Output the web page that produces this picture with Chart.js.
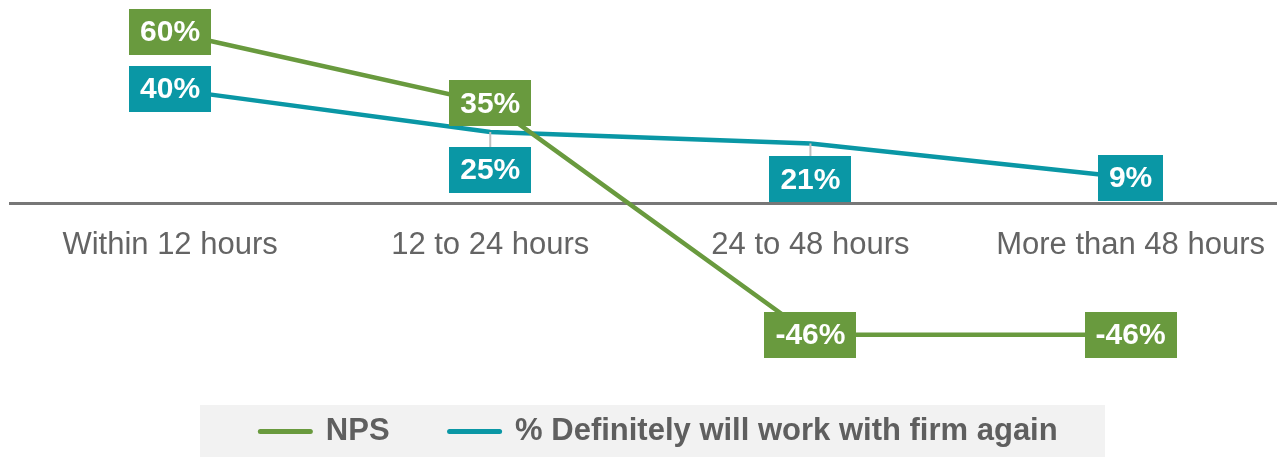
<!DOCTYPE html>
<html>
<head>
<meta charset="utf-8">
<title>NPS by response time</title>
<script src="https://cdn.jsdelivr.net/npm/chart.js@4.4.1/dist/chart.umd.min.js"></script>
<style>
  html, body { margin: 0; padding: 0; background: #fff; overflow: hidden; }
  #wrap { width: 1280px; height: 457px; }
</style>
</head>
<body>
<div id="wrap"><canvas id="chart" width="1280" height="457"></canvas></div>
<script>
const categories = ['Within 12 hours', '12 to 24 hours', '24 to 48 hours', 'More than 48 hours'];
const npsValues = [60, 35, -46, -46];
const againValues = [40, 25, 21, 9];
const seriesNames = ['NPS', '% Definitely will work with firm again'];

const GREEN = '#699A3E';
const TEAL = '#0A97A5';
const FONT = "'Liberation Sans', Arial, sans-serif";

const toPoints = (vals) => vals.map((v, i) => ({ x: i, y: v }));

// boxed value labels, pushed below the point where the lines crowd
const valueBoxes = {
  id: 'valueBoxes',
  afterDatasetsDraw(chart, args, opts) {
    const ctx = chart.ctx;
    ctx.save();
    ctx.font = `bold ${opts.size}px ${FONT}`;
    ctx.textAlign = 'center';
    ctx.textBaseline = 'middle';
    chart.data.datasets.forEach((ds, di) => {
      const meta = chart.getDatasetMeta(di);
      const shifts = opts.shift[di] || [];
      meta.data.forEach((pt, i) => {
        const text = ds.data[i].y + '%';
        const dy = shifts[i] || 0;
        const w = ctx.measureText(text).width + opts.padX * 2;
        const h = opts.height;
        const cx = pt.x;
        const cy = pt.y + dy;
        if (dy) {
          ctx.strokeStyle = '#BFBFBF';
          ctx.lineWidth = 2;
          ctx.beginPath();
          ctx.moveTo(cx, pt.y);
          ctx.lineTo(cx, cy - h / 2);
          ctx.stroke();
        }
        ctx.fillStyle = ds.borderColor;
        ctx.fillRect(Math.round(cx - w / 2), Math.round(cy - h / 2), Math.round(w), h);
        ctx.fillStyle = '#fff';
        ctx.fillText(text, cx, cy + 1);
      });
    });
    ctx.restore();
  }
};

// grey panel behind the legend
const legendPanel = {
  id: 'legendPanel',
  afterLayout(chart, args, opts) {
    chart.legend.left += opts.nudge;
    chart.legend.right += opts.nudge;
  },
  beforeDraw(chart, args, opts) {
    const ctx = chart.ctx;
    ctx.save();
    ctx.fillStyle = '#F2F2F2';
    ctx.fillRect(opts.x, opts.y, opts.w, opts.h);
    ctx.restore();
  }
};

new Chart(document.getElementById('chart'), {
  type: 'line',
  data: {
    datasets: [
      {
        label: seriesNames[0],
        data: toPoints(npsValues),
        borderColor: GREEN,
        backgroundColor: GREEN,
        borderWidth: 4.5,
        pointRadius: 0,
        tension: 0,
      },
      {
        label: seriesNames[1],
        data: toPoints(againValues),
        borderColor: TEAL,
        backgroundColor: TEAL,
        borderWidth: 4.5,
        pointRadius: 0,
        tension: 0,
      },
    ],
  },
  options: {
    responsive: false,
    animation: false,
    layout: { padding: { left: 10, top: 0, right: 0, bottom: 0 } },
    scales: {
      x: {
        type: 'linear',
        min: -0.5,
        max: 3.456,
        position: { y: 0 },
        afterBuildTicks: (scale) => {
          scale.ticks = categories.map((c, i) => ({ value: i }));
        },
        ticks: {
          padding: 15,
          color: '#646464',
          font: { family: FONT, size: 31 },
          callback: (v) => categories[v] ?? '',
          maxRotation: 0,
          autoSkip: false,
        },
        grid: { display: false },
        border: { display: true, color: '#777777', width: 3 },
      },
      y: {
        display: false,
        min: -53.4,
        max: 71.2,
      },
    },
    plugins: {
      tooltip: { enabled: false },
      legend: {
        position: 'bottom',
        labels: {
          usePointStyle: true,
          pointStyleWidth: 50,
          padding: 60,
          color: '#5F5F5F',
          font: { family: FONT, size: 31, weight: 'bold' },
          generateLabels: (chart) => chart.data.datasets.map((ds, i) => ({
            text: ds.label,
            fillStyle: ds.borderColor,
            strokeStyle: ds.borderColor,
            fontColor: '#5F5F5F',
            lineWidth: 5,
            lineCap: 'round',
            pointStyle: 'line',
            hidden: false,
            datasetIndex: i,
          })),
        },
      },
      valueBoxes: {
        size: 30,
        padX: 11,
        height: 46,
        shift: [[0, 0, 0, 0], [0, 38, 36, 0]],
      },
      legendPanel: { x: 200, y: 405, w: 905, h: 52, nudge: 14 },
    },
  },
  plugins: [valueBoxes, legendPanel],
});
</script>
</body>
</html>
